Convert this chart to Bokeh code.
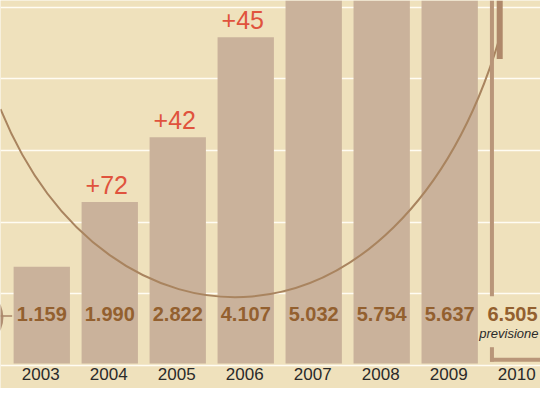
from bokeh.plotting import figure
from bokeh.models import Range1d, FixedTicker, ColumnDataSource
from bokeh.core.properties import value
from bokeh.embed import file_html
from bokeh.resources import INLINE

# ---------------- data ----------------
years = [2003, 2004, 2005, 2006, 2007, 2008, 2009]
bar_values = [1159, 1990, 2822, 4107, 5032, 5754, 5637]
label_years = [2003, 2004, 2005, 2006, 2007, 2008, 2009, 2010]
value_labels = ["1.159", "1.990", "2.822", "4.107", "5.032", "5.754", "5.637", "6.505"]
growth_years = [2004, 2005, 2006]
growth_labels = ["+72", "+42", "+45"]
forecast_year = 2010
forecast_value = "6.505"
forecast_note = "previsione"

# ---------------- layout helpers (reference pixel -> data) ----------------
PX_PER_UNIT = 0.081    # vertical scale of the bars (reference pixels per unit)
ZERO_Y = 371.0         # reference pixel row of value 0
STEP_X = 70.0          # reference pixels between years
X0 = 42.5              # reference pixel column of 2003
REF_W, REF_H = 556, 404


def vy(Y):
    return (ZERO_Y - Y) / PX_PER_UNIT


def vx(X):
    return 2003 + (X - X0) / STEP_X


W, H = 540, 388
BG = "#EFE1BC"
BAR = "#CAB29B"
BROWN = "#93602F"
RED = "#E0533D"
CURVE = "#A9845F"

p = figure(width=W, height=H, output_backend="svg", toolbar_location=None,
           x_range=Range1d(vx(0), vx(REF_W)),
           y_range=Range1d(vy(REF_H), vy(0)),
           min_border=0, min_border_left=0, min_border_right=0,
           min_border_top=0, min_border_bottom=0)
p.background_fill_color = BG
p.border_fill_color = BG
p.outline_line_color = None
p.axis.visible = False
p.xgrid.visible = False
p.ygrid.ticker = FixedTicker(ticks=[vy(380 - 74.6 * k) for k in range(6)])
p.ygrid.grid_line_color = "#FFFCF2"
p.ygrid.grid_line_width = 1.6

# bars
src = ColumnDataSource(dict(x=years, top=bar_values))
p.vbar(x="x", top="top", bottom=vy(378), width=58 / STEP_X, source=src,
       fill_color=BAR, line_color=None)

# decorative curve
p.bezier(x0=vx(0), y0=vy(113), x1=vx(513), y1=vy(42),
         cx0=vx(110), cy0=vy(385), cx1=vx(410), cy1=vy(385),
         line_color=CURVE, line_width=2)

# left circle and connector stub
p.ellipse(x=vx(-30), y=vy(330), width=66 / STEP_X, height=66 * 0.96 / PX_PER_UNIT,
          fill_color="#B08E72", line_color=None)
p.segment(x0=vx(0), y0=vy(328.5), x1=vx(12), y1=vy(328.5), line_color="#A88468", line_width=1.5)

# forecast bracket
BR = "#B99679"
p.segment(x0=vx(506), y0=vy(0), x1=vx(506), y1=vy(308), line_color=BR, line_width=4)
p.segment(x0=vx(506), y0=vy(361), x1=vx(506), y1=vy(376), line_color=BR, line_width=4)
p.segment(x0=vx(504), y0=vy(374), x1=vx(560), y1=vy(374), line_color=BR, line_width=4)
p.segment(x0=vx(514), y0=vy(0), x1=vx(514), y1=vy(61), line_color="#AF886A", line_width=6)

# growth labels above bars
gtops = [bar_values[years.index(y)] for y in growth_years]
p.text(x=growth_years, y=gtops, text=growth_labels, text_align="center",
       text_baseline="alphabetic", y_offset=-17, x_offset=-3,
       text_font=value("Liberation Sans"), text_font_size="25px", text_color=RED)

# value labels in bars
p.text(x=years, y=[vy(336)] * len(years), text=value_labels[:len(years)],
       text_align="center", text_baseline="alphabetic", y_offset=-9,
       text_font=value("Liberation Sans"), text_font_style="bold",
       text_font_size="20px", text_color=BROWN)

# forecast column texts (kept inside the picture)
p.text(x=[vx(REF_W)], y=[vy(336)], text=[forecast_value], text_align="right",
       text_baseline="alphabetic", x_offset=-3, y_offset=-9,
       text_font=value("Liberation Sans"), text_font_style="bold",
       text_font_size="20px", text_color=BROWN)
p.text(x=[vx(REF_W)], y=[vy(353)], text=[forecast_note], text_align="right",
       text_baseline="alphabetic", x_offset=-2, y_offset=-6,
       text_font=value("Liberation Sans"), text_font_style="italic",
       text_font_size="13px", text_color="#2B2B2B")

# year labels
p.text(x=label_years, y=[vy(397)] * len(label_years), text=[str(y) for y in label_years],
       text_align="center", text_baseline="alphabetic", x_offset=-1, y_offset=-8,
       text_font=value("Liberation Sans"), text_font_size="17px", text_color="#2A2A2A")

open("out.html", "w").write(file_html(p, INLINE))
